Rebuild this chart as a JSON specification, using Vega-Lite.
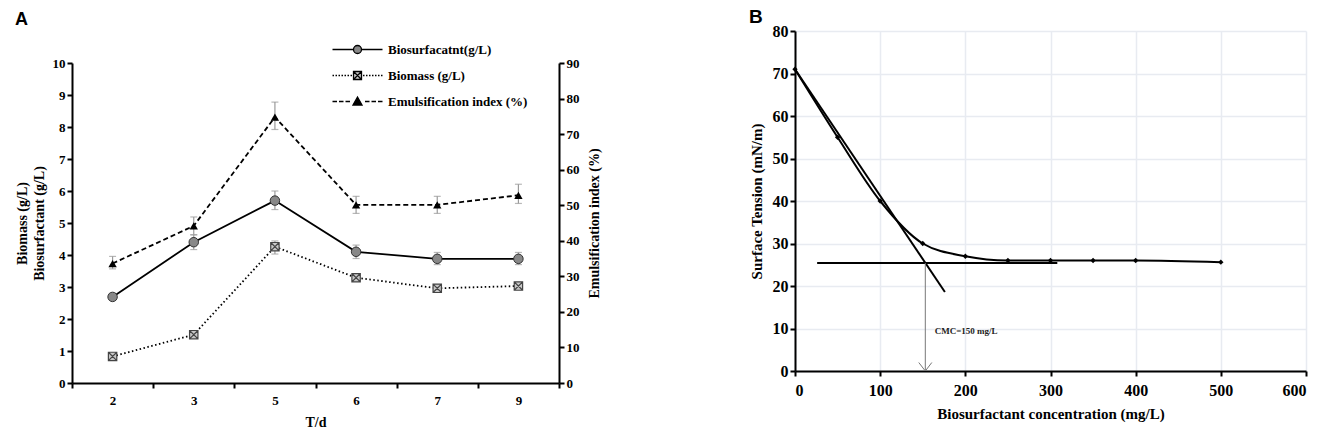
{
  "$schema": "https://vega.github.io/schema/vega-lite/v6.json",
  "background": "white",
  "padding": {"left": 15, "top": 8, "right": 5, "bottom": 5},
  "spacing": 148,
  "datasets": {
    "gl": [
      {"day": "2", "series": "Biosurfacatnt(g/L)", "value": 2.69, "lo": 2.6, "hi": 2.8},
      {"day": "3", "series": "Biosurfacatnt(g/L)", "value": 4.4, "lo": 4.17, "hi": 4.63},
      {"day": "5", "series": "Biosurfacatnt(g/L)", "value": 5.7, "lo": 5.42, "hi": 6.0},
      {"day": "6", "series": "Biosurfacatnt(g/L)", "value": 4.1, "lo": 3.89, "hi": 4.31},
      {"day": "7", "series": "Biosurfacatnt(g/L)", "value": 3.88, "lo": 3.7, "hi": 4.08},
      {"day": "9", "series": "Biosurfacatnt(g/L)", "value": 3.88, "lo": 3.7, "hi": 4.08},
      {"day": "2", "series": "Biomass (g/L)", "value": 0.83, "lo": 0.76, "hi": 0.9},
      {"day": "3", "series": "Biomass (g/L)", "value": 1.51, "lo": 1.43, "hi": 1.6},
      {"day": "5", "series": "Biomass (g/L)", "value": 4.26, "lo": 4.03, "hi": 4.44},
      {"day": "6", "series": "Biomass (g/L)", "value": 3.29, "lo": 3.2, "hi": 3.38},
      {"day": "7", "series": "Biomass (g/L)", "value": 2.96, "lo": 2.88, "hi": 3.05},
      {"day": "9", "series": "Biomass (g/L)", "value": 3.03, "lo": 2.95, "hi": 3.12}
    ],
    "ei": [
      {"day": "2", "series": "Emulsification index (%)", "value": 33.6, "lo": 32.1, "hi": 35.6},
      {"day": "3", "series": "Emulsification index (%)", "value": 44.2, "lo": 41.7, "hi": 46.7},
      {"day": "5", "series": "Emulsification index (%)", "value": 74.8, "lo": 71.3, "hi": 79.0},
      {"day": "6", "series": "Emulsification index (%)", "value": 50.1, "lo": 47.7, "hi": 52.5},
      {"day": "7", "series": "Emulsification index (%)", "value": 50.1, "lo": 47.7, "hi": 52.5},
      {"day": "9", "series": "Emulsification index (%)", "value": 52.8, "lo": 50.5, "hi": 55.9}
    ],
    "st": [
      {"c": 0, "s": 71},
      {"c": 50, "s": 55},
      {"c": 100, "s": 40},
      {"c": 150, "s": 30},
      {"c": 200, "s": 27},
      {"c": 250, "s": 26},
      {"c": 300, "s": 26},
      {"c": 350, "s": 26},
      {"c": 400, "s": 26},
      {"c": 500, "s": 25.6}
    ],
    "tangent": [
      {"c": 0, "s": 71},
      {"c": 176, "s": 18.6}
    ],
    "plateau": [
      {"c": 26, "s": 25.4},
      {"c": 308, "s": 25.4}
    ],
    "cmc": [
      {"c": 153, "s": 25.4, "s2": 0, "label": "CMC=150 mg/L", "lc": 164, "ls": 9.4}
    ]
  },
  "config": {
    "view": {"stroke": null},
    "axis": {
      "labelFont": "Liberation Serif",
      "labelFontWeight": "bold",
      "labelColor": "black",
      "titleFont": "Liberation Serif",
      "titleFontWeight": "bold",
      "titleColor": "black",
      "domainColor": "black",
      "tickColor": "black",
      "domainWidth": 2,
      "tickWidth": 2,
      "tickSize": 5,
      "grid": false
    },
    "legend": {
      "title": null,
      "orient": "none",
      "legendX": 279,
      "legendY": 12,
      "padding": 0,
      "symbolSize": 100,
      "labelOffset": 24,
      "rowPadding": 11,
      "labelFont": "Liberation Serif",
      "labelFontWeight": "bold",
      "labelFontSize": 13,
      "labelColor": "black",
      "labelLimit": 300,
      "symbolStrokeWidth": 1.3,
      "symbolOpacity": 1
    },
    "title": {"font": "Liberation Sans", "fontWeight": "bold", "color": "black", "anchor": "start"}
  },
  "hconcat": [
    {
      "title": {"text": "A", "fontSize": 18, "offset": 2},
      "width": 487,
      "height": 352,
      "encoding": {
        "x": {"field": "day", "type": "ordinal", "sort": ["2", "3", "5", "6", "7", "9"], "title": "T/d",
          "scale": {"paddingInner": 0, "paddingOuter": 0},
          "axis": {"labelAngle": 0, "tickBand": "extent", "labelFontSize": 13, "titleFontSize": 14, "labelPadding": 6, "titlePadding": 8}}
      },
      "layer": [
        {
          "data": {"name": "gl"},
          "encoding": {
            "y": {"field": "value", "type": "quantitative", "title": ["Biomass (g/L)", "Biosurfactant (g/L)"],
              "scale": {"domain": [0, 10], "nice": false, "range": [352, 32]},
              "axis": {"orient": "left", "values": [0, 1, 2, 3, 4, 5, 6, 7, 8, 9, 10], "labelFontSize": 13, "titleFontSize": 14, "titleLineHeight": 17, "titlePadding": 6}}
          },
          "layer": [
            {
              "mark": {"type": "errorbar", "ticks": {"size": 7}, "color": "#9a9a9a", "thickness": 1.2},
              "encoding": {
                "y": {"field": "lo", "type": "quantitative", "title": ["Biomass (g/L)", "Biosurfactant (g/L)"],
                  "scale": {"domain": [0, 10], "nice": false, "range": [352, 32]},
                  "axis": {"orient": "left", "values": [0, 1, 2, 3, 4, 5, 6, 7, 8, 9, 10], "labelFontSize": 13, "titleFontSize": 14, "titleLineHeight": 17, "titlePadding": 6}},
                "y2": {"field": "hi"}
              }
            },
            {
              "transform": [{"filter": "datum.series === 'Biosurfacatnt(g/L)'"}],
              "mark": {"type": "line", "color": "black", "strokeWidth": 1.8}
            },
            {
              "transform": [{"filter": "datum.series === 'Biomass (g/L)'"}],
              "mark": {"type": "line", "color": "black", "strokeWidth": 1.8, "strokeDash": [1.5, 2.5]}
            },
            {
              "transform": [{"filter": "datum.series === 'Biosurfacatnt(g/L)'"}],
              "mark": {"type": "point", "filled": true, "shape": "circle", "size": 90, "fill": "#888888", "stroke": "#333333", "strokeWidth": 1, "opacity": 1}
            },
            {
              "transform": [{"filter": "datum.series === 'Biomass (g/L)'"}],
              "mark": {"type": "point", "filled": true, "shape": "M-0.8,-0.8H0.8V0.8H-0.8Z M-0.8,-0.8L0.8,0.8 M0.8,-0.8L-0.8,0.8", "size": 110, "fill": "#c8c8c8", "stroke": "#444444", "strokeWidth": 1.2, "opacity": 1}
            },
            {
              "mark": {"type": "point", "filled": true, "strokeWidth": 1.3, "opacity": 0},
              "encoding": {
                "shape": {
                  "field": "series", "type": "nominal",
                  "scale": {
                    "domain": ["Biosurfacatnt(g/L)", "Biomass (g/L)", "Emulsification index (%)"],
                    "range": [
                      "M-5,0H-0.8M0.8,0H5M0.8,0A0.8,0.8,0,1,1,-0.8,0A0.8,0.8,0,1,1,0.8,0",
                      "M-5,0h0.3M-4.4,0h0.3M-3.8,0h0.3M-3.2,0h0.3M-2.6,0h0.3M-2,0h0.3M-1.4,0h0.3M1.1,0h0.3M1.7,0h0.3M2.3,0h0.3M2.9,0h0.3M3.5,0h0.3M4.1,0h0.3M4.7,0h0.3M-0.8,-0.8H0.8V0.8H-0.8ZM-0.8,-0.8L0.8,0.8M0.8,-0.8L-0.8,0.8",
                      "M-5,0h0.9M-3.7,0h0.9M-2.4,0h0.9M1.5,0h0.9M2.8,0h0.9M4.1,0h0.9M0,-0.9L0.9,0.7H-0.9Z"
                    ]
                  }
                },
                "fill": {
                  "field": "series", "type": "nominal",
                  "scale": {"domain": ["Biosurfacatnt(g/L)", "Biomass (g/L)", "Emulsification index (%)"], "range": ["#888888", "#c8c8c8", "black"]}
                },
                "stroke": {
                  "field": "series", "type": "nominal",
                  "scale": {"domain": ["Biosurfacatnt(g/L)", "Biomass (g/L)", "Emulsification index (%)"], "range": ["black", "black", "black"]}
                }
              }
            }
          ]
        },
        {
          "data": {"name": "ei"},
          "encoding": {
            "y": {"field": "value", "type": "quantitative", "title": "Emulsification index (%)",
              "scale": {"domain": [0, 90], "nice": false, "range": [352, 32]},
              "axis": {"orient": "right", "values": [0, 10, 20, 30, 40, 50, 60, 70, 80, 90], "labelFontSize": 13, "titleFontSize": 14, "titleAngle": 270, "titleBaseline": "top", "titlePadding": 8}}
          },
          "layer": [
            {
              "mark": {"type": "errorbar", "ticks": {"size": 7}, "color": "#9a9a9a", "thickness": 1.2},
              "encoding": {
                "y": {"field": "lo", "type": "quantitative", "title": "Emulsification index (%)",
                  "scale": {"domain": [0, 90], "nice": false, "range": [352, 32]},
                  "axis": {"orient": "right", "values": [0, 10, 20, 30, 40, 50, 60, 70, 80, 90], "labelFontSize": 13, "titleFontSize": 14, "titleAngle": 270, "titleBaseline": "top", "titlePadding": 8}},
                "y2": {"field": "hi"}
              }
            },
            {
              "mark": {"type": "line", "color": "black", "strokeWidth": 1.8, "strokeDash": [5, 3]}
            },
            {
              "mark": {"type": "point", "filled": true, "shape": "triangle-up", "size": 70, "color": "black", "opacity": 1}
            }
          ]
        }
      ],
      "resolve": {"scale": {"y": "independent"}}
    },
    {
      "title": {"text": "B", "fontSize": 19, "offset": -4},
      "width": 511,
      "height": 340,
      "layer": [
        {
          "data": {"name": "st"},
          "mark": {"type": "line", "color": "black", "strokeWidth": 2, "interpolate": "monotone"},
          "encoding": {
            "x": {"field": "c", "type": "quantitative", "title": "Biosurfactant concentration (mg/L)",
              "scale": {"domain": [0, 600], "nice": false},
              "axis": {"values": [0, 100, 200, 300, 400, 500, 600], "grid": true, "gridColor": "#e8ebf1", "gridWidth": 1.5, "labelFontSize": 16, "titleFontSize": 15, "labelPadding": 6, "titlePadding": 8}},
            "y": {"field": "s", "type": "quantitative", "title": "Surface Tension (mN/m)",
              "scale": {"domain": [0, 80], "nice": false},
              "axis": {"values": [0, 10, 20, 30, 40, 50, 60, 70, 80], "grid": true, "gridColor": "#e8ebf1", "gridWidth": 1.5, "labelFontSize": 16, "titleFontSize": 15, "titlePadding": 8}}
          }
        },
        {
          "data": {"name": "st"},
          "mark": {"type": "point", "filled": true, "shape": "diamond", "size": 28, "color": "black", "opacity": 1},
          "encoding": {
            "x": {"field": "c", "type": "quantitative", "title": "Biosurfactant concentration (mg/L)"},
            "y": {"field": "s", "type": "quantitative", "title": "Surface Tension (mN/m)"}
          }
        },
        {
          "data": {"name": "tangent"},
          "mark": {"type": "line", "color": "black", "strokeWidth": 2},
          "encoding": {
            "x": {"field": "c", "type": "quantitative", "title": "Biosurfactant concentration (mg/L)"},
            "y": {"field": "s", "type": "quantitative", "title": "Surface Tension (mN/m)"}
          }
        },
        {
          "data": {"name": "plateau"},
          "mark": {"type": "line", "color": "black", "strokeWidth": 2},
          "encoding": {
            "x": {"field": "c", "type": "quantitative", "title": "Biosurfactant concentration (mg/L)"},
            "y": {"field": "s", "type": "quantitative", "title": "Surface Tension (mN/m)"}
          }
        },
        {
          "data": {"name": "cmc"},
          "mark": {"type": "rule", "color": "#777777", "strokeWidth": 1},
          "encoding": {
            "x": {"field": "c", "type": "quantitative", "title": "Biosurfactant concentration (mg/L)"},
            "y": {"field": "s", "type": "quantitative", "title": "Surface Tension (mN/m)"},
            "y2": {"field": "s2"}
          }
        },
        {
          "data": {"name": "cmc"},
          "mark": {"type": "point", "filled": false, "shape": "M-1,-1.3L0,0L1,-1.3", "size": 170, "stroke": "#777777", "strokeWidth": 1, "opacity": 1},
          "encoding": {
            "x": {"field": "c", "type": "quantitative", "title": "Biosurfactant concentration (mg/L)"},
            "y": {"field": "s2", "type": "quantitative", "title": "Surface Tension (mN/m)"}
          }
        },
        {
          "data": {"name": "cmc"},
          "mark": {"type": "text", "align": "left", "baseline": "middle", "font": "Liberation Serif", "fontWeight": "bold", "fontSize": 9, "color": "#222222"},
          "encoding": {
            "x": {"field": "lc", "type": "quantitative", "title": "Biosurfactant concentration (mg/L)"},
            "y": {"field": "ls", "type": "quantitative", "title": "Surface Tension (mN/m)"},
            "text": {"field": "label"}
          }
        }
      ]
    }
  ]
}
